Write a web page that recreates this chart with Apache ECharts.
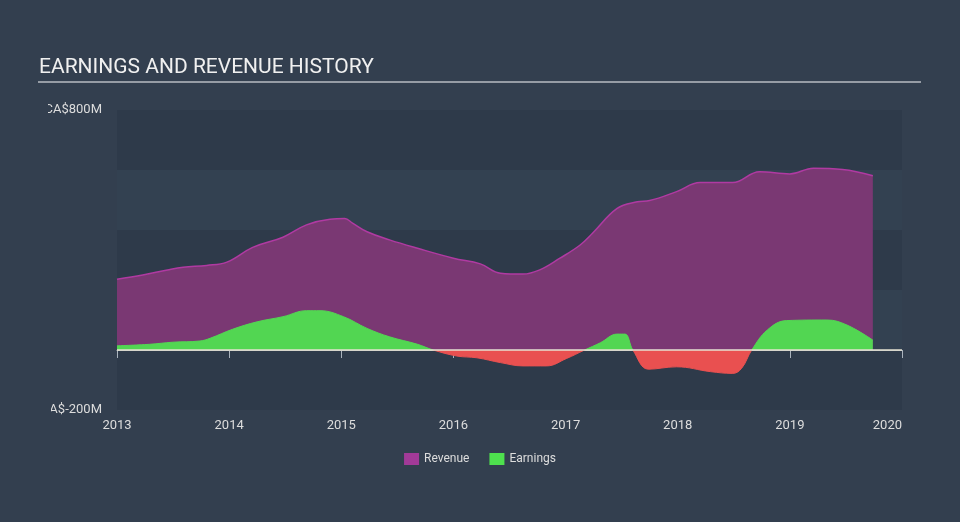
<!DOCTYPE html>
<html>
<head>
<meta charset="utf-8">
<script src="https://cdn.jsdelivr.net/npm/echarts@6/dist/echarts.min.js"></script>
<style>
html,body{margin:0;padding:0;background:#333f4f;}
#c{width:960px;height:522px;}
</style>
</head>
<body>
<div id="c"></div>
<script>
const title = 'EARNINGS AND REVENUE HISTORY';
const xTicks = [2013, 2014, 2015, 2016, 2017, 2018, 2019, 2020];
const yTickLabels = {'800': 'CA$800M', '-200': 'CA$-200M'};

const revenueX = [2013.00, 2013.23, 2013.45, 2013.59, 2013.80, 2013.98, 2014.21, 2014.48, 2014.69, 2014.90, 2015.03, 2015.10, 2015.23, 2015.43, 2015.68, 2016.00, 2016.24, 2016.42, 2016.62, 2016.77, 2016.95, 2017.13, 2017.24, 2017.46, 2017.64, 2017.75, 2017.99, 2018.20, 2018.49, 2018.73, 2019.00, 2019.21, 2019.47, 2019.74];
const revenueVals = [236, 250, 267, 276, 282, 293, 342, 376, 417, 436, 438, 423, 394, 367, 339, 306, 287, 256, 253, 267, 306, 350, 389, 472, 494, 498, 528, 558, 558, 594, 587, 606, 602, 581];

const earningsX = [2013.00, 2013.29, 2013.50, 2013.74, 2013.83, 2014.03, 2014.25, 2014.48, 2014.69, 2014.81, 2015.02, 2015.23, 2015.43, 2015.68, 2015.82, 2016.03, 2016.21, 2016.42, 2016.62, 2016.83, 2017.01, 2017.17, 2017.31, 2017.46, 2017.53, 2017.60, 2017.74, 2017.99, 2018.29, 2018.49, 2018.57, 2018.66, 2018.80, 2018.97, 2019.33, 2019.51, 2019.74];
const earningsVals = [14, 19, 26, 30, 39, 69, 94, 111, 131, 131, 111, 72, 44, 19, 0, -20, -26, -42, -53, -53, -28, 0, 24, 53, 53, 0, -64, -56, -72, -78, -61, 0, 67, 98, 100, 83, 33];

const revenueData = revenueX.map((x, i) => [x, revenueVals[i]]);
const earningsData = earningsX.map((x, i) => [x, earningsVals[i]]);

const chart = echarts.init(document.getElementById('c'), null, {renderer: 'canvas'});
chart.setOption({
  backgroundColor: '#333f4f',
  animation: false,
  textStyle: {fontFamily: 'Roboto, "Noto Sans", sans-serif'},
  title: {
    text: title, left: 34, top: 52,
    textStyle: {color: '#f0f0f0', fontSize: 21, fontWeight: 'normal', fontFamily: 'Roboto'}
  },
  grid: {left: 117, right: 58, top: 110, bottom: 112, containLabel: false},
  legend: {
    bottom: 52, left: 'center', itemWidth: 15, itemHeight: 12, itemGap: 20,
    icon: 'rect',
    textStyle: {color: '#dddddd', fontSize: 12},
    data: ['Revenue', 'Earnings']
  },
  visualMap: {
    show: false, type: 'piecewise', seriesIndex: 1, dimension: 1,
    pieces: [{min: -1000, max: 0, color: '#e95050'}, {gt: 0, max: 1000, color: '#52d652'}]
  },
  xAxis: {
    type: 'value', min: 2013, max: 2020, interval: 1,
    axisLine: {show: true, lineStyle: {color: '#aab3bd', width: 1}},
    axisTick: {show: true, length: 8, lineStyle: {color: '#aab3bd'}},
    axisLabel: {color: '#dddddd', fontSize: 13, margin: 9, alignMaxLabel: 'right',
      formatter: v => String(v)},
    splitLine: {show: false}
  },
  yAxis: {
    type: 'value', min: -200, max: 800, interval: 200,
    axisLine: {show: false}, axisTick: {show: false},
    axisLabel: {color: '#dddddd', fontSize: 13, margin: 15,
      formatter: v => yTickLabels[String(v)] || ''},
    splitLine: {show: false},
    splitArea: {show: true, areaStyle: {color: ['#2e3a4a', '#334151']}}
  },
  graphic: [
    {type: 'rect', left: 0, top: 95, shape: {width: 48, height: 330}, style: {fill: '#333f4f'}, z: 100},
    {type: 'rect', left: 0, top: 398, shape: {width: 51, height: 24}, style: {fill: '#333f4f'}, z: 100},
    {type: 'line', shape: {x1: 38, y1: 82, x2: 921, y2: 82}, style: {stroke: '#b8bcc2', lineWidth: 1.5}, z: 100}
  ],
  series: [
    {
      name: 'Revenue', type: 'line', data: revenueData, smooth: 0.4, symbol: 'none',
      itemStyle: {color: '#a23a98'},
      lineStyle: {color: '#b03aa2', width: 1.5},
      areaStyle: {color: '#7a3873', opacity: 1},
      z: 2,
      markLine: {
        silent: true, symbol: 'none', label: {show: false},
        lineStyle: {color: '#e6e2d2', width: 1.5, type: 'solid'},
        data: [{yAxis: 0}], z: 5
      }
    },
    {
      name: 'Earnings', type: 'line', data: earningsData, smooth: 0.4, symbol: 'none',
      itemStyle: {color: '#4ee04e'},
      lineStyle: {width: 1},
      areaStyle: {opacity: 1},
      z: 3
    }
  ]
});
</script>
</body>
</html>
